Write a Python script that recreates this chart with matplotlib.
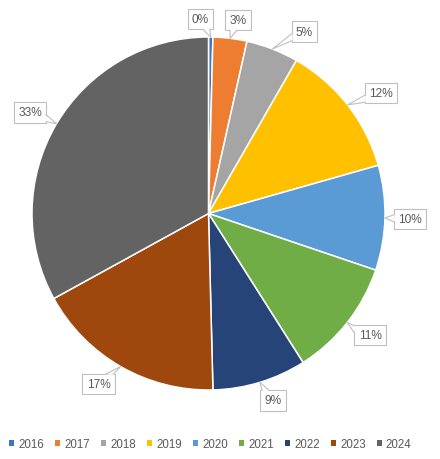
import matplotlib
matplotlib.use("Agg")
import matplotlib.pyplot as plt
import numpy as np
from matplotlib.patches import Patch, Polygon

plt.rcParams["font.family"] = ["Liberation Sans", "DejaVu Sans"]

# share of each year (percent)
years = ["2016", "2017", "2018", "2019", "2020", "2021", "2022", "2023", "2024"]
shares = [0.4, 3.1, 4.8, 12.3, 9.6, 10.8, 8.6, 17.4, 33.0]
colors = ["#4472C4", "#ED7D31", "#A5A5A5", "#FFC000", "#5B9BD5",
          "#70AD47", "#264478", "#9E480E", "#636363"]

# callout box centres in image pixels (x from left, y from top)
label_px = [(200.5, 20), (238, 21), (304.5, 32.5), (381, 94), (410, 220),
            (370, 336), (273, 401.5), (98.5, 385), (30, 113.5)]

W, H = 440, 460
CX, CY, R = 208.5, 214.5, 176.5
TEXT_COLOR = "#595959"
EDGE_COLOR = "#BFBFBF"

fig = plt.figure(figsize=(W / 100, H / 100), dpi=100)
ax = fig.add_axes([(CX - R) / W, (H - CY - R) / H, 2 * R / W, 2 * R / H])

wedges, _ = ax.pie(shares, colors=colors, startangle=90, counterclock=False,
                   radius=1.0, wedgeprops=dict(edgecolor="white", linewidth=1.1))
ax.set_xlim(-1, 1)
ax.set_ylim(-1, 1)
ax.set_aspect("equal", adjustable="box")
ax.axis("off")

total = sum(shares)
texts = []
for v, (px, py) in zip(shares, label_px):
    x = (px - CX) / R
    y = (CY - py) / R
    t = ax.text(x, y, f"{round(100 * v / total)}%", ha="center", va="center",
                fontsize=8.6, color=TEXT_COLOR, zorder=3, clip_on=False,
                bbox=dict(boxstyle="square,pad=0.36", fc="white", ec=EDGE_COLOR, lw=0.8))
    texts.append(t)

fig.canvas.draw()
inv = ax.transData.inverted()

# callout pointers: from the box edge to the outer edge of the slice
for w, t in zip(wedges, texts):
    mid = np.deg2rad((w.theta1 + w.theta2) / 2)
    tip = ax.transData.transform((np.cos(mid), np.sin(mid)))
    bb = t.get_bbox_patch().get_window_extent()
    c = np.array([(bb.x0 + bb.x1) / 2, (bb.y0 + bb.y1) / 2])
    hw, hh = bb.width / 2, bb.height / 2
    d = tip - c
    tx = hw / abs(d[0]) if d[0] else np.inf
    ty = hh / abs(d[1]) if d[1] else np.inf
    half = 3.5
    if tx < ty:
        ex = c + tx * d
        yc = np.clip(ex[1], bb.y0 + half + 1, bb.y1 - half - 1)
        xs = ex[0]
        inward = -np.sign(d[0])
        b1, b2 = np.array([xs, yc - half]), np.array([xs, yc + half])
        shift = np.array([inward * 1.0, 0])
    else:
        ex = c + ty * d
        xc = np.clip(ex[0], bb.x0 + half + 1, bb.x1 - half - 1)
        ys = ex[1]
        inward = -np.sign(d[1])
        b1, b2 = np.array([xc - half, ys]), np.array([xc + half, ys])
        shift = np.array([0, inward * 1.0])
    fill = inv.transform([b1 + shift, tip, b2 + shift])
    ax.add_patch(Polygon(fill, closed=True, fc="white", ec="none",
                         zorder=4, clip_on=False))
    line = inv.transform([b1, tip, b2])
    ax.plot(line[:, 0], line[:, 1], color=EDGE_COLOR, lw=0.8,
            zorder=4, clip_on=False)

handles = [Patch(facecolor=w.get_facecolor()) for w in wedges]
fig.legend(handles, years, loc="center", bbox_to_anchor=(0.478, 15 / H),
           ncol=len(years), frameon=False, fontsize=8.3, labelcolor=TEXT_COLOR,
           handlelength=0.45, handleheight=0.45, handletextpad=0.36,
           columnspacing=0.95, borderaxespad=0)

fig.savefig("out.png", dpi=100)
